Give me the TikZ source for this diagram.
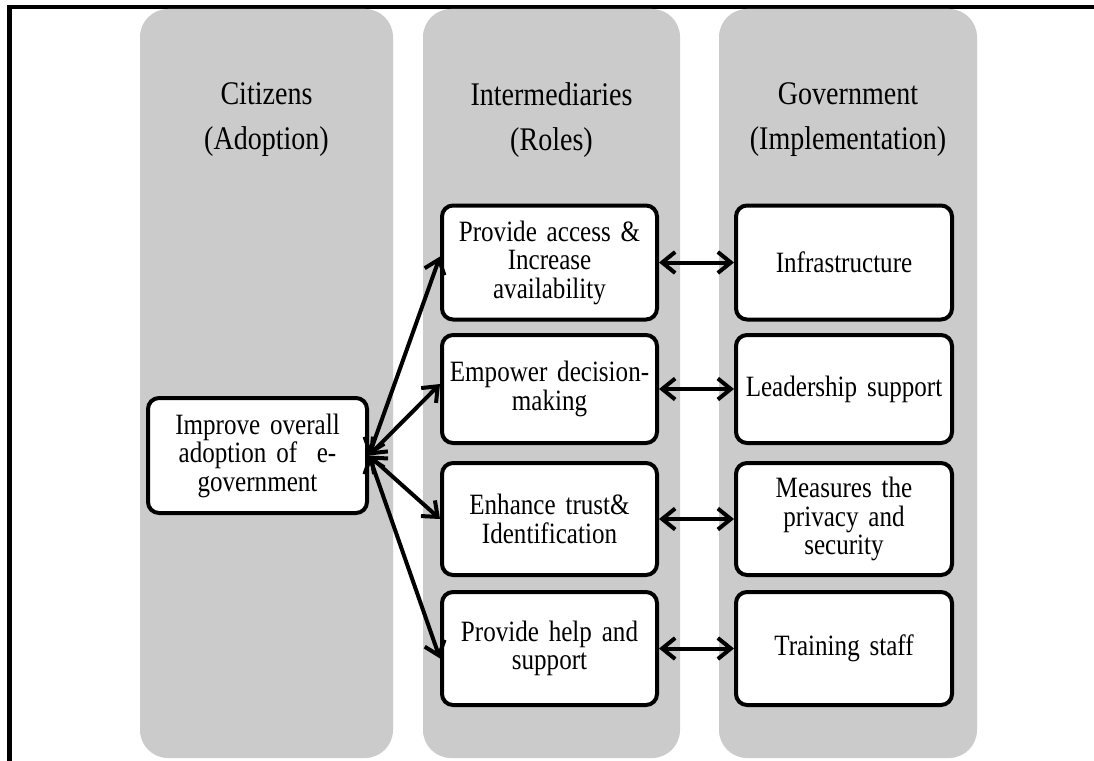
\documentclass[tikz,border=0pt]{standalone}
\usepackage{fontspec}
\setmainfont{Liberation Serif}[FakeStretch=0.85]
\usetikzlibrary{arrows.meta}
\definecolor{lanegray}{RGB}{203,203,203}
\newcommand\boxfont{\fontsize{29.5}{28.5}\selectfont\spaceskip=5pt\relax}
\newcommand\headfont{\fontsize{33}{45}\selectfont\spaceskip=6pt\relax}
\tikzset{
  lane/.style={fill=lanegray, rounded corners=28pt},
  lanehead/.style={align=center, font=\headfont},
  rolebox/.style={draw, fill=white, line width=4pt, rounded corners=11pt,
    minimum width=215pt, text width=205pt, align=center, inner sep=1pt,
    font=\boxfont},
  link/.style={line width=4pt, {Straight Barb[length=13pt,width=21pt]}-{Straight Barb[length=13pt,width=21pt]}}
}

\begin{document}
\begin{tikzpicture}[x=1pt, y=-1pt]
		%%%%% START %%%%%
		\useasboundingbox (0,0) rectangle (1094,760);
		
		\draw[line width=4.5pt] (9.5,762) -- (9.5,7) -- (1096,7);
		
		\fill[lane] (140,9) rectangle (393,758);
		\fill[lane] (423,9) rectangle (680,758);
		\fill[lane] (719,9) rectangle (977,758);
		
		\node[lanehead] (hcit) at (266.5,120) {Citizens\\(Adoption)};
		\node[lanehead] (hint) at (551.5,120) {Intermediaries\\(Roles)};
		\node[lanehead] (hgov) at (848,120) {Government\\(Implementation)};
		
		\node[rolebox, minimum width=219pt, minimum height=115pt] (adopt) at (257.5,455.5) {Improve overall\\adoption of\ \ e-\\government};
		
		\node[rolebox, minimum height=114pt] (access) at (549.5,262.5) {Provide access \&\\Increase\\availability};
		\node[rolebox, minimum height=108pt] (empower) at (549.5,389) {Empower decision-\\making};
		\node[rolebox, minimum height=112pt] (trust) at (549.5,519) {Enhance trust\&\\Identification};
		\node[rolebox, minimum height=113pt] (help) at (549.5,648.5) {Provide help and\\support};
		
		\node[rolebox, minimum width=216pt, minimum height=114pt] (infra) at (844,262.5) {Infrastructure};
		\node[rolebox, minimum width=216pt, minimum height=108pt] (lead) at (844,389) {Leadership support};
		\node[rolebox, minimum width=216pt, minimum height=112pt] (privacy) at (844,519) {Measures the\\privacy and\\security};
		\node[rolebox, minimum width=216pt, minimum height=113pt] (staff) at (844,648.5) {Training staff};
		
		\draw[link] (adopt.east) -- ([yshift=6pt]access.west);
		\draw[link] (adopt.east) -- ([yshift=5pt]empower.west);
		\draw[link] (adopt.east) -- (trust.west);
		\draw[link] (adopt.east) -- ([yshift=-10pt]help.west);
		
		\draw[link] (access.east) -- (infra.west);
		\draw[link] (empower.east) -- (lead.west);
		\draw[link] (trust.east) -- (privacy.west);
		\draw[link] (help.east) -- (staff.west);
		
		%%%%% END %%%%%
\end{tikzpicture}
\end{document}
